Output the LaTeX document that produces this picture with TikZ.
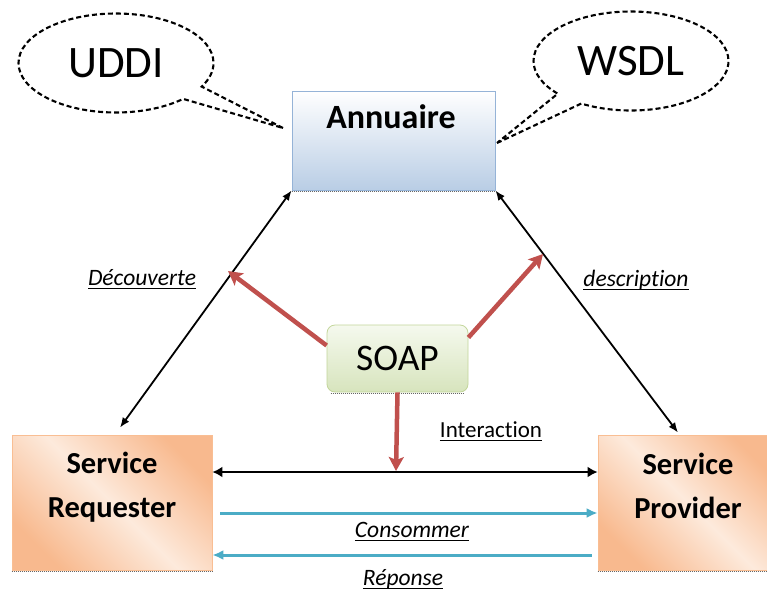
\documentclass[tikz,border=0pt]{standalone}
\usepackage{fontspec}
\setmainfont{Carlito}[Ligatures={NoCommon}]
\usetikzlibrary{arrows.meta,shapes.callouts,calc}

\definecolor{soapred}{HTML}{C0504D}
\definecolor{msgblue}{HTML}{4BACC6}
\definecolor{annuedge}{HTML}{95B3D7}
\definecolor{annulow}{HTML}{B9CDE5}
\definecolor{soapedge}{HTML}{C3D69B}
\definecolor{soaptop}{HTML}{F5F9EE}
\definecolor{soaplow}{HTML}{D7E4BD}
\definecolor{svcdark}{HTML}{F8B98E}
\definecolor{svclight}{HTML}{FDEADC}
\definecolor{svcedge}{HTML}{F9BE93}

% underlined label text with a solid rule a little below the baseline
\newcommand{\ulabel}[1]{\setbox0\hbox{#1}\rlap{\rule[-4pt]{\wd0}{1.3pt}}\box0}

\begin{document}
\begin{tikzpicture}[x=1pt,y=-1pt,
  bubble/.style={ellipse callout, draw=black, fill=white, line width=2.1pt,
    dash pattern=on 5pt off 3pt, minimum width=195pt, minimum height=99pt,
    inner sep=0pt, callout pointer arc=18, font=\fontsize{45}{52}\selectfont},
  annubox/.style={draw=annuedge, line width=0.8pt, top color=white,
    bottom color=annulow, minimum width=203pt, minimum height=99pt},
  soapbox/.style={draw=soapedge, line width=0.8pt, rounded corners=8pt,
    top color=soaptop, bottom color=soaplow, minimum width=141pt,
    minimum height=67pt, font=\fontsize{37.5}{44}\selectfont},
  svcbox/.style={draw=svcedge, line width=0.8pt, top color=svcdark,
    bottom color=svcdark, middle color=svclight, shading angle=-45,
    minimum width=200pt, minimum height=135pt},
  svctext/.style={font=\fontsize{30.5}{43.5}\selectfont\bfseries, align=center},
  boxshadow/.style={densely dotted, black!60, line width=1pt},
  link/.style={line width=1.8pt, {Latex[length=10pt,width=8pt]}-{Latex[length=10pt,width=8pt]}},
  wide link/.style={line width=2.6pt, {Latex[length=10pt,width=11pt]}-{Latex[length=10pt,width=11pt]}},
  soaparrow/.style={soapred, line width=4.5pt, -{Stealth[length=14pt,width=15pt,inset=3pt]}},
  msg/.style={msgblue, line width=3pt, -{Latex[length=11pt,width=10pt]}},
  lbl/.style={font=\fontsize{23.5}{28}\selectfont\itshape, inner sep=0pt},
  lblup/.style={font=\fontsize{23}{28}\selectfont, inner sep=0pt}
]
\useasboundingbox (0,0) rectangle (767,592);
\clip (0,0) rectangle (767,592);
\fill[white] (0,0) rectangle (767,592);

% registry box
\node[annubox] (annu) at (393.5,140.5) {};
\draw[boxshadow] ([yshift=-1pt]annu.south west) -- ([yshift=-1pt]annu.south east);
\node[font=\fontsize{34}{40}\selectfont\bfseries, anchor=base] (annuT) at (391,128) {Annuaire};

% speech bubbles
\coordinate (uddiTip) at (283,128);
\coordinate (wsdlTip) at (497,143);
\node[bubble, callout absolute pointer={(uddiTip)}] (uddi) at (116,63) {UDDI};
\node[bubble, callout absolute pointer={(wsdlTip)}] (wsdl) at (631,61) {WSDL};

% service boxes
\node[svcbox] (req) at (112,502.5) {};
\draw[boxshadow] ([yshift=-1pt]req.south west) -- ([yshift=-1pt]req.south east);
\node[svctext] (reqT) at (112,487) {Service\\Requester};
\node[svcbox, minimum width=180pt] (prov) at (688,502.5) {};
\draw[boxshadow] ([yshift=-1pt]prov.south west) -- ([yshift=-1pt]prov.south east);
\node[svctext] (provT) at (688,486) {Service\\Provider};

% SOAP box
\node[soapbox] (soap) at (397.5,358.5) {SOAP};
\draw[boxshadow] ([xshift=4pt,yshift=-1pt]soap.south west) -- ([xshift=-4pt,yshift=-1pt]soap.south east);

% discovery / description links
\draw[link] ([xshift=8pt,yshift=7pt]req.north) -- (annu.south west);
\draw[link] (annu.south east) -- ([xshift=-10pt,yshift=2pt]prov.north);

% interaction and messages
\draw[wide link] ([yshift=30.5pt]req.east) -- ([yshift=30.5pt]prov.west);
\draw[msg] ([xshift=8pt,yshift=-10.5pt]req.east) -- ([yshift=-10.5pt]prov.west);
\draw[msg] ([xshift=-6pt,yshift=-52.5pt]prov.west) -- ([yshift=-52.5pt]req.east);

% SOAP arrows
\coordinate (discTip) at (228,271);
\coordinate (descTip) at (543,254);
\coordinate (interTip) at (396,471);
\draw[soaparrow] ([yshift=13pt]soap.west) -- (discTip);
\draw[soaparrow] ([yshift=21pt]soap.east) -- (descTip);
\draw[soaparrow] (soap.south) -- (interTip);

% labels
\node[lbl, anchor=base] (discL) at (142,285) {\ulabel{Découverte}};
\node[lbl, anchor=base] (descL) at (636,286) {\ulabel{description}};
\node[lblup, anchor=base] (interL) at (491,437) {\ulabel{Interaction}};
\node[lbl, anchor=base] (consL) at (412,537) {\ulabel{Consommer}};
\node[lbl, anchor=base] (repL) at (403,585) {\ulabel{Réponse}};
\end{tikzpicture}
\end{document}
